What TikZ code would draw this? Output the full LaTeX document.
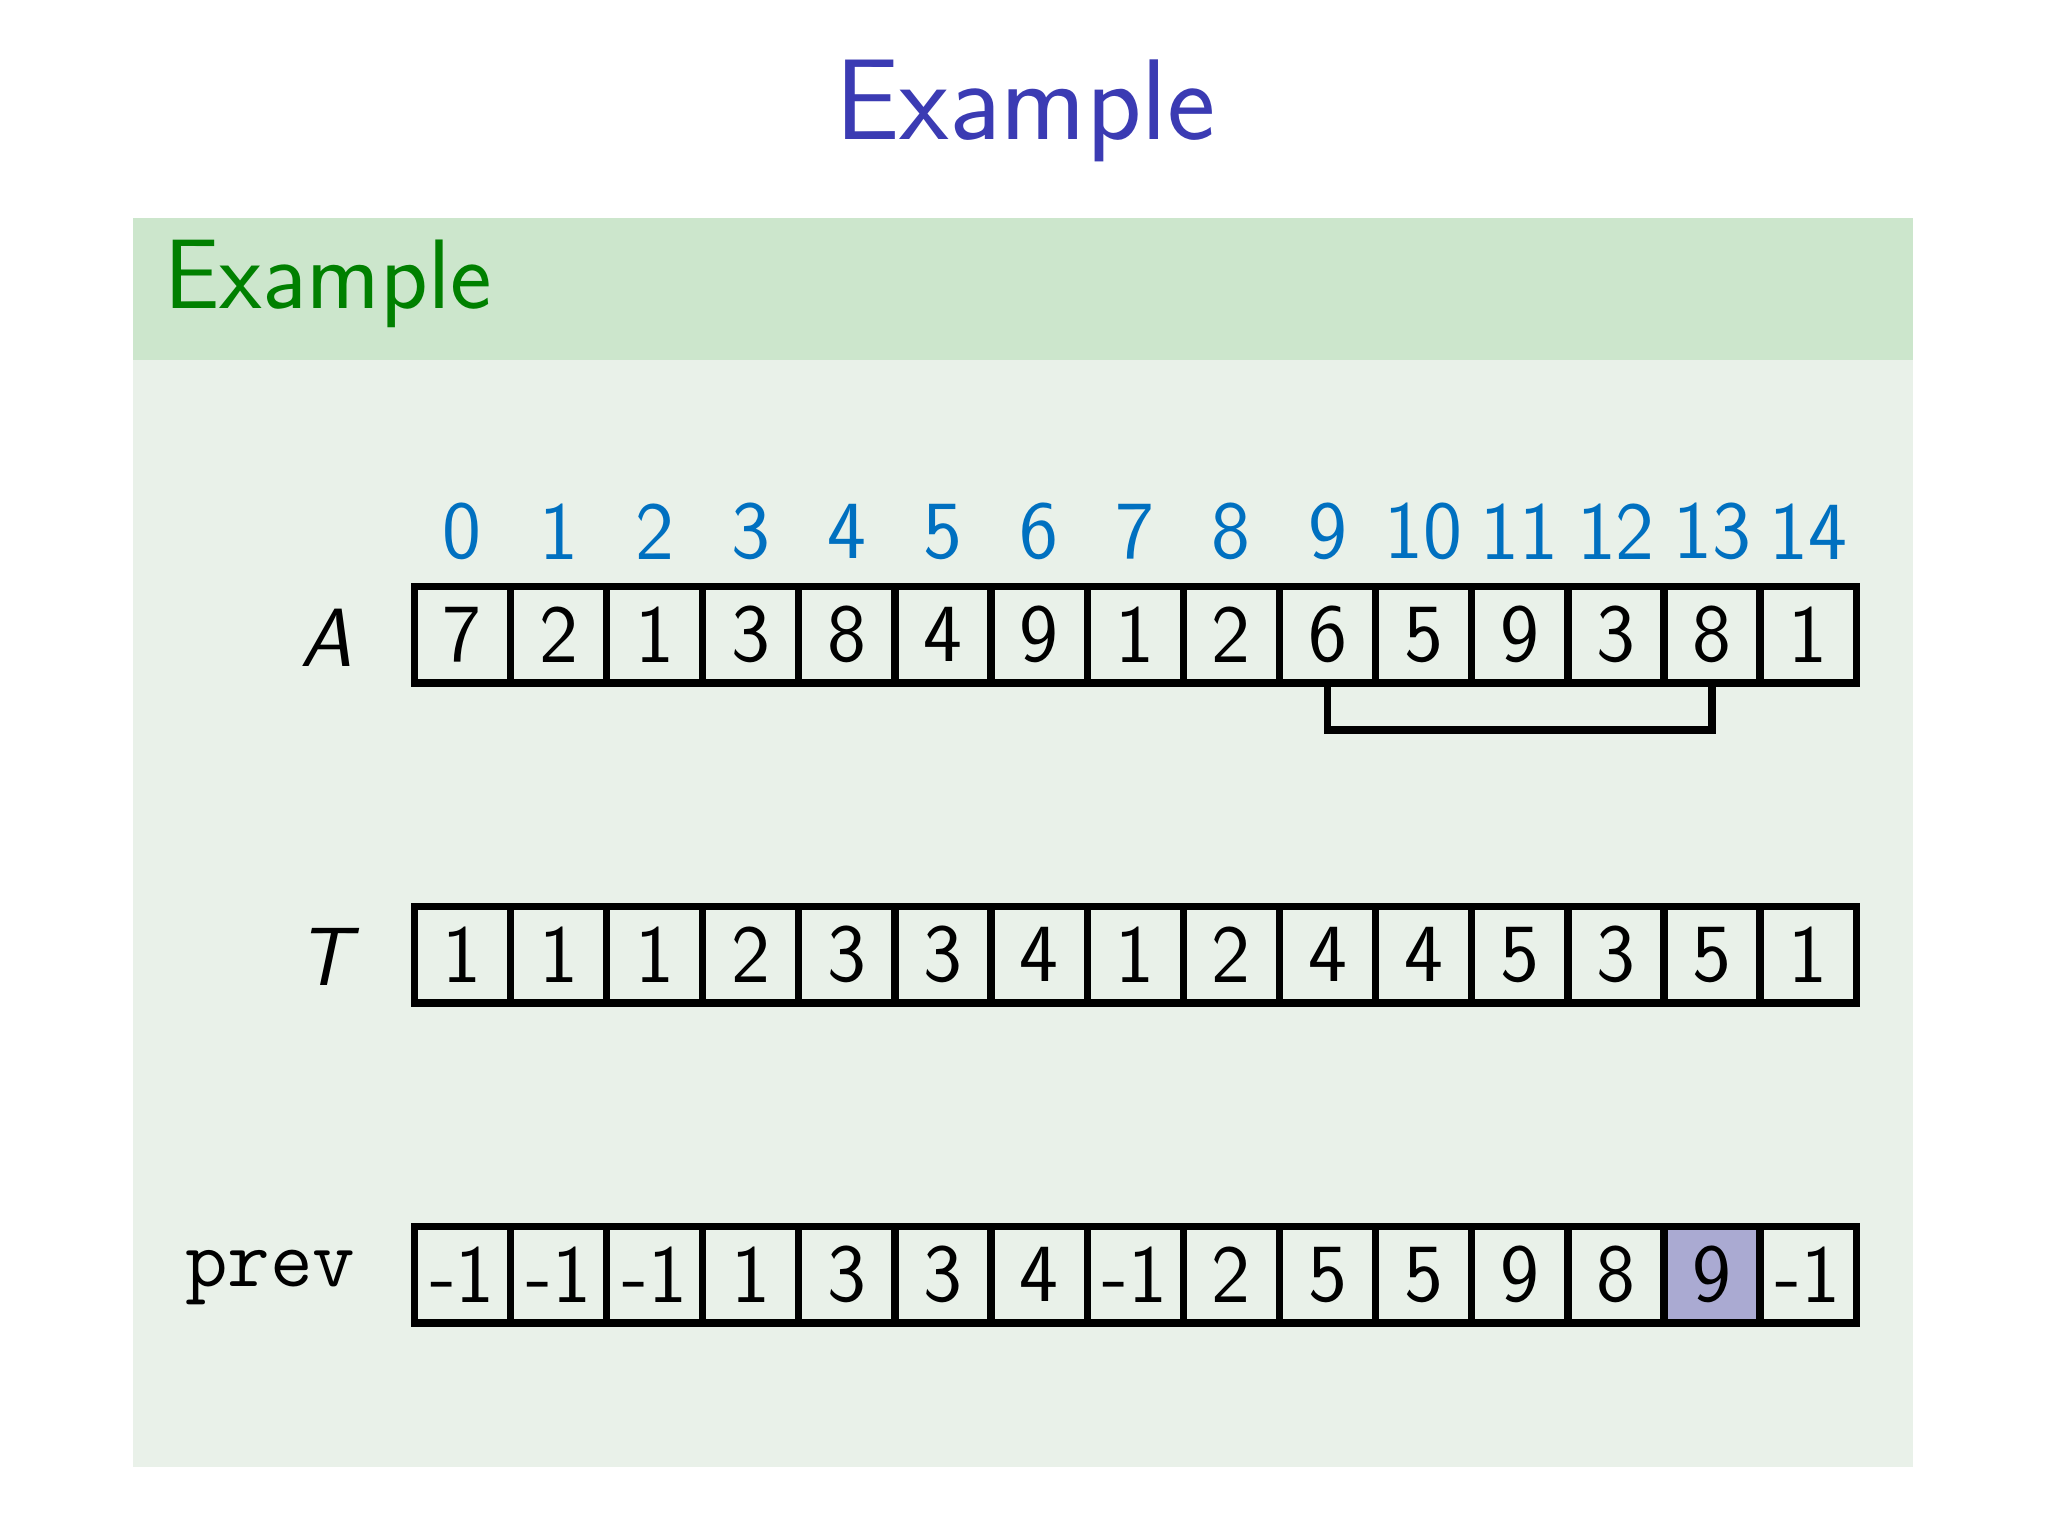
\documentclass[tikz,border=0pt]{standalone}
\definecolor{titleblue}{RGB}{59,59,179}
\definecolor{hdrgreen}{RGB}{204,230,204}
\definecolor{bodygreen}{RGB}{233,241,233}
\definecolor{blkgreen}{RGB}{0,128,0}
\definecolor{idxblue}{RGB}{0,112,192}
\definecolor{hl}{RGB}{170,170,210}
\begin{document}
\begin{tikzpicture}[x=0.01cm,y=-0.01cm,
  cell/.style={draw=black,line width=1.6pt,fill=bodygreen,minimum width=0.736cm,minimum height=0.74cm,inner sep=0pt,font=\sffamily\fontsize{18}{20}\selectfont},
  idx/.style={text=idxblue,inner sep=0pt,font=\sffamily\fontsize{18}{20}\selectfont},
  lbl/.style={inner sep=0pt,font=\sffamily\itshape\fontsize{18}{20}\selectfont}]
\useasboundingbox (0,0) rectangle (1568,1176);
\fill[white] (0,0) rectangle (1568,1176);
\node[text=titleblue,font=\sffamily\fontsize{25}{28}\selectfont] (title) at (785,85) {Example};
\fill[hdrgreen] (102,167) rectangle (1465,276);
\fill[bodygreen] (102,276) rectangle (1465,1123);
\node[anchor=west,text=blkgreen,inner sep=0pt,font=\sffamily\fontsize{21.5}{24}\selectfont] (btitle) at (125,217) {Example};
\foreach \v [count=\i from 0] in {7,2,1,3,8,4,9,1,2,6,5,9,3,8,1}{
  \node[cell] (a\i) at ({354+73.6*\i},486) {\v};
  \node[idx] (i\i) at ({354+73.6*\i},407) {\i};
}
\foreach \v [count=\i from 0] in {1,1,1,2,3,3,4,1,2,4,4,5,3,5,1}{
  \node[cell] (t\i) at ({354+73.6*\i},731) {\v};
}
\foreach \v [count=\i from 0] in {-1,-1,-1,1,3,3,4,-1,2,5,5,9,8,9,-1}{
  \ifnum\i=13
    \node[cell,fill=hl] (p\i) at ({354+73.6*\i},976) {\v};
  \else
    \node[cell] (p\i) at ({354+73.6*\i},976) {\v};
  \fi
}
\node[lbl] (la) at (250,488) {A};
\node[lbl] (lt) at (248,733) {T};
\node[inner sep=0pt,font=\ttfamily\fontsize{18}{20}\selectfont] (lp) at (207,978) {prev};
\coordinate (b1) at ([yshift=-0.33cm]a9.south);
\coordinate (b2) at ([yshift=-0.33cm]a13.south);
\draw[line width=1.6pt] (a9.south) -- (b1) -- (b2) -- (a13.south);
\end{tikzpicture}
\end{document}
